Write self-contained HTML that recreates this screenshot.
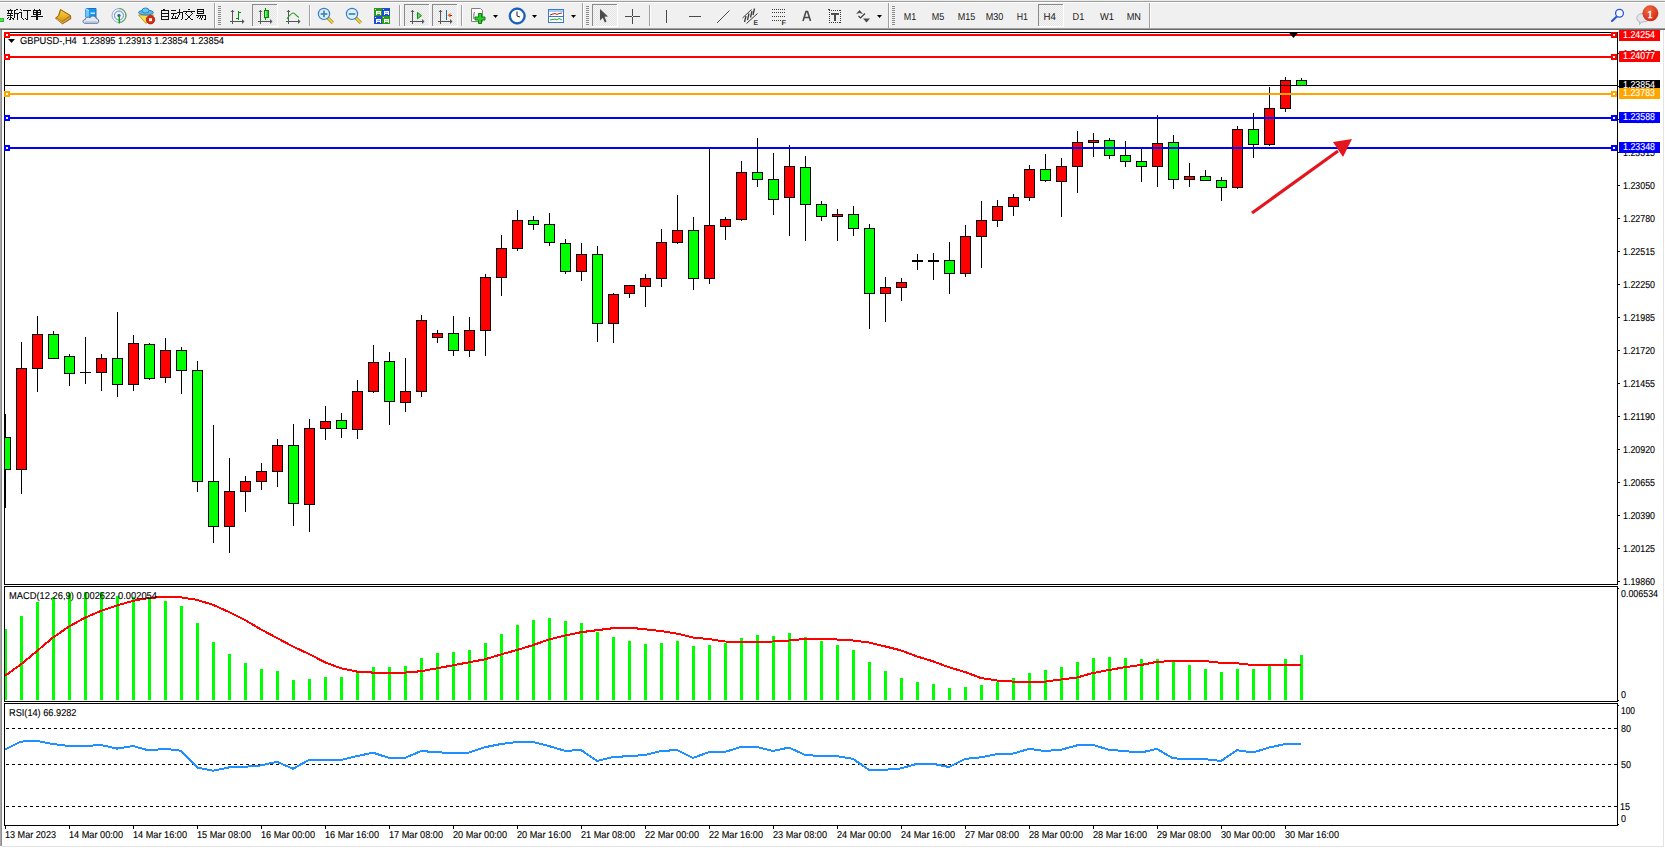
<!DOCTYPE html>
<html><head><meta charset="utf-8"><title>MT4</title>
<style>
html,body{margin:0;padding:0;background:#fff;width:1665px;height:848px;overflow:hidden}
body{position:relative;font-family:"Liberation Sans", sans-serif}
</style></head><body>
<svg width="1665" height="848" viewBox="0 0 1665 848" shape-rendering="crispEdges" style="position:absolute;left:0;top:0">
<g font-family='"Liberation Sans", sans-serif'>
<rect x="0" y="0" width="1665" height="848" fill="#ffffff"/>
<rect x="0" y="0" width="1665" height="28" fill="#f0f0f0"/>
<rect x="0" y="1" width="1665" height="1" fill="#a0a0a0"/>
<rect x="0" y="0" width="1665" height="1" fill="#e8e8e8"/>
<rect x="0" y="2" width="1665" height="1" fill="#ffffff"/>
<rect x="0" y="28" width="1665" height="1" fill="#a0a0a0"/>
<rect x="0" y="29" width="1665" height="1" fill="#6a6a6a"/>
<rect x="0" y="30" width="1" height="816" fill="#a8a8a8"/>
<rect x="1" y="30" width="1" height="816" fill="#8a8a8a"/>
<rect x="1663" y="30" width="1" height="817" fill="#e3e3e3"/>
<rect x="2" y="846" width="1662" height="1" fill="#e3e3e3"/>
<rect x="4" y="32" width="1614" height="1" fill="#000"/>
<rect x="4" y="584" width="1614" height="1" fill="#000"/>
<rect x="4" y="32" width="1" height="553" fill="#000"/>
<rect x="1617" y="32" width="1" height="553" fill="#000"/>
<rect x="4" y="586" width="1614" height="1" fill="#000"/>
<rect x="4" y="701" width="1614" height="1" fill="#000"/>
<rect x="4" y="586" width="1" height="116" fill="#000"/>
<rect x="1617" y="586" width="1" height="116" fill="#000"/>
<rect x="4" y="703" width="1614" height="1" fill="#000"/>
<rect x="4" y="825" width="1614" height="1" fill="#000"/>
<rect x="4" y="703" width="1" height="123" fill="#000"/>
<rect x="1617" y="703" width="1" height="123" fill="#000"/>
<defs><clipPath id="mc"><rect x="5" y="33" width="1612" height="551"/></clipPath><clipPath id="m2"><rect x="5" y="587" width="1612" height="114"/></clipPath><clipPath id="m3"><rect x="5" y="704" width="1612" height="121"/></clipPath></defs>
<rect x="1618" y="581" width="2" height="1" fill="#000"/>
<text x="1623" y="585" font-size="10" fill="#000" textLength="32" lengthAdjust="spacingAndGlyphs" stroke="#000" stroke-width="0.12" text-rendering="geometricPrecision">1.19860</text>
<rect x="1618" y="548" width="2" height="1" fill="#000"/>
<text x="1623" y="552" font-size="10" fill="#000" textLength="32" lengthAdjust="spacingAndGlyphs" stroke="#000" stroke-width="0.12" text-rendering="geometricPrecision">1.20125</text>
<rect x="1618" y="515" width="2" height="1" fill="#000"/>
<text x="1623" y="519" font-size="10" fill="#000" textLength="32" lengthAdjust="spacingAndGlyphs" stroke="#000" stroke-width="0.12" text-rendering="geometricPrecision">1.20390</text>
<rect x="1618" y="482" width="2" height="1" fill="#000"/>
<text x="1623" y="486" font-size="10" fill="#000" textLength="32" lengthAdjust="spacingAndGlyphs" stroke="#000" stroke-width="0.12" text-rendering="geometricPrecision">1.20655</text>
<rect x="1618" y="449" width="2" height="1" fill="#000"/>
<text x="1623" y="453" font-size="10" fill="#000" textLength="32" lengthAdjust="spacingAndGlyphs" stroke="#000" stroke-width="0.12" text-rendering="geometricPrecision">1.20920</text>
<rect x="1618" y="416" width="2" height="1" fill="#000"/>
<text x="1623" y="420" font-size="10" fill="#000" textLength="32" lengthAdjust="spacingAndGlyphs" stroke="#000" stroke-width="0.12" text-rendering="geometricPrecision">1.21190</text>
<rect x="1618" y="383" width="2" height="1" fill="#000"/>
<text x="1623" y="387" font-size="10" fill="#000" textLength="32" lengthAdjust="spacingAndGlyphs" stroke="#000" stroke-width="0.12" text-rendering="geometricPrecision">1.21455</text>
<rect x="1618" y="350" width="2" height="1" fill="#000"/>
<text x="1623" y="354" font-size="10" fill="#000" textLength="32" lengthAdjust="spacingAndGlyphs" stroke="#000" stroke-width="0.12" text-rendering="geometricPrecision">1.21720</text>
<rect x="1618" y="317" width="2" height="1" fill="#000"/>
<text x="1623" y="321" font-size="10" fill="#000" textLength="32" lengthAdjust="spacingAndGlyphs" stroke="#000" stroke-width="0.12" text-rendering="geometricPrecision">1.21985</text>
<rect x="1618" y="284" width="2" height="1" fill="#000"/>
<text x="1623" y="288" font-size="10" fill="#000" textLength="32" lengthAdjust="spacingAndGlyphs" stroke="#000" stroke-width="0.12" text-rendering="geometricPrecision">1.22250</text>
<rect x="1618" y="251" width="2" height="1" fill="#000"/>
<text x="1623" y="255" font-size="10" fill="#000" textLength="32" lengthAdjust="spacingAndGlyphs" stroke="#000" stroke-width="0.12" text-rendering="geometricPrecision">1.22515</text>
<rect x="1618" y="218" width="2" height="1" fill="#000"/>
<text x="1623" y="222" font-size="10" fill="#000" textLength="32" lengthAdjust="spacingAndGlyphs" stroke="#000" stroke-width="0.12" text-rendering="geometricPrecision">1.22780</text>
<rect x="1618" y="185" width="2" height="1" fill="#000"/>
<text x="1623" y="189" font-size="10" fill="#000" textLength="32" lengthAdjust="spacingAndGlyphs" stroke="#000" stroke-width="0.12" text-rendering="geometricPrecision">1.23050</text>
<rect x="1618" y="152" width="2" height="1" fill="#000"/>
<text x="1623" y="156" font-size="10" fill="#000" textLength="32" lengthAdjust="spacingAndGlyphs" stroke="#000" stroke-width="0.12" text-rendering="geometricPrecision">1.23315</text>
<rect x="1618" y="119" width="2" height="1" fill="#000"/>
<text x="1623" y="123" font-size="10" fill="#000" textLength="32" lengthAdjust="spacingAndGlyphs" stroke="#000" stroke-width="0.12" text-rendering="geometricPrecision">1.23580</text>
<rect x="1618" y="86" width="2" height="1" fill="#000"/>
<text x="1623" y="90" font-size="10" fill="#000" textLength="32" lengthAdjust="spacingAndGlyphs" stroke="#000" stroke-width="0.12" text-rendering="geometricPrecision">1.23845</text>
<rect x="1618" y="53" width="2" height="1" fill="#000"/>
<text x="1623" y="57" font-size="10" fill="#000" textLength="32" lengthAdjust="spacingAndGlyphs" stroke="#000" stroke-width="0.12" text-rendering="geometricPrecision">1.24118</text>
<g clip-path="url(#mc)">
<rect x="5" y="414" width="1" height="94" fill="#000"/>
<rect x="0" y="437" width="11" height="33" fill="#000"/>
<rect x="1" y="438" width="9" height="31" fill="#00ff00"/>
<rect x="21" y="342" width="1" height="152" fill="#000"/>
<rect x="16" y="368" width="11" height="102" fill="#000"/>
<rect x="17" y="369" width="9" height="100" fill="#ff0000"/>
<rect x="37" y="316" width="1" height="76" fill="#000"/>
<rect x="32" y="334" width="11" height="35" fill="#000"/>
<rect x="33" y="335" width="9" height="33" fill="#ff0000"/>
<rect x="53" y="331" width="1" height="28" fill="#000"/>
<rect x="48" y="334" width="11" height="25" fill="#000"/>
<rect x="49" y="335" width="9" height="23" fill="#00ff00"/>
<rect x="69" y="354" width="1" height="32" fill="#000"/>
<rect x="64" y="356" width="11" height="18" fill="#000"/>
<rect x="65" y="357" width="9" height="16" fill="#00ff00"/>
<rect x="85" y="337" width="1" height="47" fill="#000"/>
<rect x="80" y="372" width="11" height="1" fill="#000"/>
<rect x="101" y="354" width="1" height="37" fill="#000"/>
<rect x="96" y="358" width="11" height="15" fill="#000"/>
<rect x="97" y="359" width="9" height="13" fill="#ff0000"/>
<rect x="117" y="312" width="1" height="85" fill="#000"/>
<rect x="112" y="358" width="11" height="27" fill="#000"/>
<rect x="113" y="359" width="9" height="25" fill="#00ff00"/>
<rect x="133" y="335" width="1" height="56" fill="#000"/>
<rect x="128" y="343" width="11" height="42" fill="#000"/>
<rect x="129" y="344" width="9" height="40" fill="#ff0000"/>
<rect x="149" y="343" width="1" height="37" fill="#000"/>
<rect x="144" y="344" width="11" height="35" fill="#000"/>
<rect x="145" y="345" width="9" height="33" fill="#00ff00"/>
<rect x="165" y="338" width="1" height="45" fill="#000"/>
<rect x="160" y="350" width="11" height="28" fill="#000"/>
<rect x="161" y="351" width="9" height="26" fill="#ff0000"/>
<rect x="181" y="347" width="1" height="47" fill="#000"/>
<rect x="176" y="350" width="11" height="21" fill="#000"/>
<rect x="177" y="351" width="9" height="19" fill="#00ff00"/>
<rect x="197" y="361" width="1" height="131" fill="#000"/>
<rect x="192" y="370" width="11" height="112" fill="#000"/>
<rect x="193" y="371" width="9" height="110" fill="#00ff00"/>
<rect x="213" y="425" width="1" height="118" fill="#000"/>
<rect x="208" y="481" width="11" height="46" fill="#000"/>
<rect x="209" y="482" width="9" height="44" fill="#00ff00"/>
<rect x="229" y="458" width="1" height="95" fill="#000"/>
<rect x="224" y="491" width="11" height="36" fill="#000"/>
<rect x="225" y="492" width="9" height="34" fill="#ff0000"/>
<rect x="245" y="476" width="1" height="36" fill="#000"/>
<rect x="240" y="481" width="11" height="11" fill="#000"/>
<rect x="241" y="482" width="9" height="9" fill="#ff0000"/>
<rect x="261" y="463" width="1" height="27" fill="#000"/>
<rect x="256" y="471" width="11" height="11" fill="#000"/>
<rect x="257" y="472" width="9" height="9" fill="#ff0000"/>
<rect x="277" y="439" width="1" height="48" fill="#000"/>
<rect x="272" y="445" width="11" height="27" fill="#000"/>
<rect x="273" y="446" width="9" height="25" fill="#ff0000"/>
<rect x="293" y="424" width="1" height="102" fill="#000"/>
<rect x="288" y="445" width="11" height="59" fill="#000"/>
<rect x="289" y="446" width="9" height="57" fill="#00ff00"/>
<rect x="309" y="419" width="1" height="113" fill="#000"/>
<rect x="304" y="428" width="11" height="77" fill="#000"/>
<rect x="305" y="429" width="9" height="75" fill="#ff0000"/>
<rect x="325" y="406" width="1" height="34" fill="#000"/>
<rect x="320" y="421" width="11" height="8" fill="#000"/>
<rect x="321" y="422" width="9" height="6" fill="#ff0000"/>
<rect x="341" y="413" width="1" height="25" fill="#000"/>
<rect x="336" y="420" width="11" height="9" fill="#000"/>
<rect x="337" y="421" width="9" height="7" fill="#00ff00"/>
<rect x="357" y="380" width="1" height="59" fill="#000"/>
<rect x="352" y="391" width="11" height="39" fill="#000"/>
<rect x="353" y="392" width="9" height="37" fill="#ff0000"/>
<rect x="373" y="345" width="1" height="48" fill="#000"/>
<rect x="368" y="362" width="11" height="30" fill="#000"/>
<rect x="369" y="363" width="9" height="28" fill="#ff0000"/>
<rect x="389" y="352" width="1" height="73" fill="#000"/>
<rect x="384" y="361" width="11" height="41" fill="#000"/>
<rect x="385" y="362" width="9" height="39" fill="#00ff00"/>
<rect x="405" y="358" width="1" height="54" fill="#000"/>
<rect x="400" y="391" width="11" height="12" fill="#000"/>
<rect x="401" y="392" width="9" height="10" fill="#ff0000"/>
<rect x="421" y="315" width="1" height="82" fill="#000"/>
<rect x="416" y="320" width="11" height="72" fill="#000"/>
<rect x="417" y="321" width="9" height="70" fill="#ff0000"/>
<rect x="437" y="330" width="1" height="13" fill="#000"/>
<rect x="432" y="333" width="11" height="5" fill="#000"/>
<rect x="433" y="334" width="9" height="3" fill="#ff0000"/>
<rect x="453" y="316" width="1" height="40" fill="#000"/>
<rect x="448" y="333" width="11" height="18" fill="#000"/>
<rect x="449" y="334" width="9" height="16" fill="#00ff00"/>
<rect x="469" y="317" width="1" height="40" fill="#000"/>
<rect x="464" y="330" width="11" height="21" fill="#000"/>
<rect x="465" y="331" width="9" height="19" fill="#ff0000"/>
<rect x="485" y="274" width="1" height="82" fill="#000"/>
<rect x="480" y="277" width="11" height="54" fill="#000"/>
<rect x="481" y="278" width="9" height="52" fill="#ff0000"/>
<rect x="501" y="235" width="1" height="61" fill="#000"/>
<rect x="496" y="248" width="11" height="30" fill="#000"/>
<rect x="497" y="249" width="9" height="28" fill="#ff0000"/>
<rect x="517" y="210" width="1" height="41" fill="#000"/>
<rect x="512" y="220" width="11" height="29" fill="#000"/>
<rect x="513" y="221" width="9" height="27" fill="#ff0000"/>
<rect x="533" y="216" width="1" height="14" fill="#000"/>
<rect x="528" y="220" width="11" height="5" fill="#000"/>
<rect x="529" y="221" width="9" height="3" fill="#00ff00"/>
<rect x="549" y="213" width="1" height="33" fill="#000"/>
<rect x="544" y="224" width="11" height="19" fill="#000"/>
<rect x="545" y="225" width="9" height="17" fill="#00ff00"/>
<rect x="565" y="239" width="1" height="35" fill="#000"/>
<rect x="560" y="243" width="11" height="29" fill="#000"/>
<rect x="561" y="244" width="9" height="27" fill="#00ff00"/>
<rect x="581" y="243" width="1" height="38" fill="#000"/>
<rect x="576" y="254" width="11" height="18" fill="#000"/>
<rect x="577" y="255" width="9" height="16" fill="#ff0000"/>
<rect x="597" y="246" width="1" height="96" fill="#000"/>
<rect x="592" y="254" width="11" height="70" fill="#000"/>
<rect x="593" y="255" width="9" height="68" fill="#00ff00"/>
<rect x="613" y="293" width="1" height="50" fill="#000"/>
<rect x="608" y="294" width="11" height="30" fill="#000"/>
<rect x="609" y="295" width="9" height="28" fill="#ff0000"/>
<rect x="629" y="285" width="1" height="13" fill="#000"/>
<rect x="624" y="285" width="11" height="9" fill="#000"/>
<rect x="625" y="286" width="9" height="7" fill="#ff0000"/>
<rect x="645" y="274" width="1" height="33" fill="#000"/>
<rect x="640" y="278" width="11" height="9" fill="#000"/>
<rect x="641" y="279" width="9" height="7" fill="#ff0000"/>
<rect x="661" y="229" width="1" height="58" fill="#000"/>
<rect x="656" y="242" width="11" height="37" fill="#000"/>
<rect x="657" y="243" width="9" height="35" fill="#ff0000"/>
<rect x="677" y="195" width="1" height="49" fill="#000"/>
<rect x="672" y="230" width="11" height="13" fill="#000"/>
<rect x="673" y="231" width="9" height="11" fill="#ff0000"/>
<rect x="693" y="217" width="1" height="73" fill="#000"/>
<rect x="688" y="230" width="11" height="49" fill="#000"/>
<rect x="689" y="231" width="9" height="47" fill="#00ff00"/>
<rect x="709" y="148" width="1" height="136" fill="#000"/>
<rect x="704" y="225" width="11" height="54" fill="#000"/>
<rect x="705" y="226" width="9" height="52" fill="#ff0000"/>
<rect x="725" y="217" width="1" height="23" fill="#000"/>
<rect x="720" y="219" width="11" height="8" fill="#000"/>
<rect x="721" y="220" width="9" height="6" fill="#ff0000"/>
<rect x="741" y="161" width="1" height="60" fill="#000"/>
<rect x="736" y="172" width="11" height="48" fill="#000"/>
<rect x="737" y="173" width="9" height="46" fill="#ff0000"/>
<rect x="757" y="138" width="1" height="49" fill="#000"/>
<rect x="752" y="172" width="11" height="8" fill="#000"/>
<rect x="753" y="173" width="9" height="6" fill="#00ff00"/>
<rect x="773" y="153" width="1" height="62" fill="#000"/>
<rect x="768" y="179" width="11" height="21" fill="#000"/>
<rect x="769" y="180" width="9" height="19" fill="#00ff00"/>
<rect x="789" y="145" width="1" height="91" fill="#000"/>
<rect x="784" y="166" width="11" height="32" fill="#000"/>
<rect x="785" y="167" width="9" height="30" fill="#ff0000"/>
<rect x="805" y="156" width="1" height="85" fill="#000"/>
<rect x="800" y="167" width="11" height="38" fill="#000"/>
<rect x="801" y="168" width="9" height="36" fill="#00ff00"/>
<rect x="821" y="201" width="1" height="20" fill="#000"/>
<rect x="816" y="204" width="11" height="13" fill="#000"/>
<rect x="817" y="205" width="9" height="11" fill="#00ff00"/>
<rect x="837" y="209" width="1" height="32" fill="#000"/>
<rect x="832" y="214" width="11" height="3" fill="#000"/>
<rect x="833" y="215" width="9" height="1" fill="#ff0000"/>
<rect x="853" y="206" width="1" height="30" fill="#000"/>
<rect x="848" y="214" width="11" height="15" fill="#000"/>
<rect x="849" y="215" width="9" height="13" fill="#00ff00"/>
<rect x="869" y="224" width="1" height="105" fill="#000"/>
<rect x="864" y="228" width="11" height="66" fill="#000"/>
<rect x="865" y="229" width="9" height="64" fill="#00ff00"/>
<rect x="885" y="277" width="1" height="45" fill="#000"/>
<rect x="880" y="287" width="11" height="7" fill="#000"/>
<rect x="881" y="288" width="9" height="5" fill="#ff0000"/>
<rect x="901" y="278" width="1" height="23" fill="#000"/>
<rect x="896" y="282" width="11" height="6" fill="#000"/>
<rect x="897" y="283" width="9" height="4" fill="#ff0000"/>
<rect x="917" y="254" width="1" height="16" fill="#000"/>
<rect x="912" y="260" width="11" height="2" fill="#000"/>
<rect x="933" y="253" width="1" height="27" fill="#000"/>
<rect x="928" y="260" width="11" height="2" fill="#000"/>
<rect x="949" y="242" width="1" height="52" fill="#000"/>
<rect x="944" y="260" width="11" height="14" fill="#000"/>
<rect x="945" y="261" width="9" height="12" fill="#00ff00"/>
<rect x="965" y="225" width="1" height="52" fill="#000"/>
<rect x="960" y="236" width="11" height="38" fill="#000"/>
<rect x="961" y="237" width="9" height="36" fill="#ff0000"/>
<rect x="981" y="201" width="1" height="67" fill="#000"/>
<rect x="976" y="220" width="11" height="17" fill="#000"/>
<rect x="977" y="221" width="9" height="15" fill="#ff0000"/>
<rect x="997" y="200" width="1" height="27" fill="#000"/>
<rect x="992" y="206" width="11" height="15" fill="#000"/>
<rect x="993" y="207" width="9" height="13" fill="#ff0000"/>
<rect x="1013" y="194" width="1" height="22" fill="#000"/>
<rect x="1008" y="197" width="11" height="10" fill="#000"/>
<rect x="1009" y="198" width="9" height="8" fill="#ff0000"/>
<rect x="1029" y="165" width="1" height="36" fill="#000"/>
<rect x="1024" y="169" width="11" height="29" fill="#000"/>
<rect x="1025" y="170" width="9" height="27" fill="#ff0000"/>
<rect x="1045" y="154" width="1" height="28" fill="#000"/>
<rect x="1040" y="169" width="11" height="12" fill="#000"/>
<rect x="1041" y="170" width="9" height="10" fill="#00ff00"/>
<rect x="1061" y="158" width="1" height="59" fill="#000"/>
<rect x="1056" y="166" width="11" height="16" fill="#000"/>
<rect x="1057" y="167" width="9" height="14" fill="#ff0000"/>
<rect x="1077" y="131" width="1" height="62" fill="#000"/>
<rect x="1072" y="142" width="11" height="25" fill="#000"/>
<rect x="1073" y="143" width="9" height="23" fill="#ff0000"/>
<rect x="1093" y="133" width="1" height="24" fill="#000"/>
<rect x="1088" y="140" width="11" height="3" fill="#000"/>
<rect x="1089" y="141" width="9" height="1" fill="#ff0000"/>
<rect x="1109" y="138" width="1" height="21" fill="#000"/>
<rect x="1104" y="140" width="11" height="16" fill="#000"/>
<rect x="1105" y="141" width="9" height="14" fill="#00ff00"/>
<rect x="1125" y="141" width="1" height="26" fill="#000"/>
<rect x="1120" y="155" width="11" height="7" fill="#000"/>
<rect x="1121" y="156" width="9" height="5" fill="#00ff00"/>
<rect x="1141" y="149" width="1" height="33" fill="#000"/>
<rect x="1136" y="161" width="11" height="6" fill="#000"/>
<rect x="1137" y="162" width="9" height="4" fill="#00ff00"/>
<rect x="1157" y="115" width="1" height="72" fill="#000"/>
<rect x="1152" y="143" width="11" height="24" fill="#000"/>
<rect x="1153" y="144" width="9" height="22" fill="#ff0000"/>
<rect x="1173" y="135" width="1" height="54" fill="#000"/>
<rect x="1168" y="142" width="11" height="38" fill="#000"/>
<rect x="1169" y="143" width="9" height="36" fill="#00ff00"/>
<rect x="1189" y="163" width="1" height="24" fill="#000"/>
<rect x="1184" y="176" width="11" height="4" fill="#000"/>
<rect x="1185" y="177" width="9" height="2" fill="#ff0000"/>
<rect x="1205" y="170" width="1" height="11" fill="#000"/>
<rect x="1200" y="176" width="11" height="5" fill="#000"/>
<rect x="1201" y="177" width="9" height="3" fill="#00ff00"/>
<rect x="1221" y="177" width="1" height="24" fill="#000"/>
<rect x="1216" y="180" width="11" height="8" fill="#000"/>
<rect x="1217" y="181" width="9" height="6" fill="#00ff00"/>
<rect x="1237" y="126" width="1" height="63" fill="#000"/>
<rect x="1232" y="129" width="11" height="59" fill="#000"/>
<rect x="1233" y="130" width="9" height="57" fill="#ff0000"/>
<rect x="1253" y="113" width="1" height="45" fill="#000"/>
<rect x="1248" y="129" width="11" height="16" fill="#000"/>
<rect x="1249" y="130" width="9" height="14" fill="#00ff00"/>
<rect x="1269" y="87" width="1" height="59" fill="#000"/>
<rect x="1264" y="108" width="11" height="37" fill="#000"/>
<rect x="1265" y="109" width="9" height="35" fill="#ff0000"/>
<rect x="1285" y="77" width="1" height="35" fill="#000"/>
<rect x="1280" y="80" width="11" height="29" fill="#000"/>
<rect x="1281" y="81" width="9" height="27" fill="#ff0000"/>
<rect x="1301" y="78" width="1" height="8" fill="#000"/>
<rect x="1296" y="80" width="11" height="6" fill="#000"/>
<rect x="1297" y="81" width="9" height="4" fill="#00ff00"/>
</g>
<rect x="5" y="34" width="1612" height="2" fill="#ff0000"/>
<rect x="4" y="32" width="6" height="6" fill="#ff0000"/>
<rect x="6" y="34" width="2" height="2" fill="#fff"/>
<rect x="1611" y="32" width="6" height="6" fill="#ff0000"/>
<rect x="1613" y="34" width="2" height="2" fill="#fff"/>
<rect x="5" y="56" width="1612" height="2" fill="#ff0000"/>
<rect x="4" y="54" width="6" height="6" fill="#ff0000"/>
<rect x="6" y="56" width="2" height="2" fill="#fff"/>
<rect x="1611" y="54" width="6" height="6" fill="#ff0000"/>
<rect x="1613" y="56" width="2" height="2" fill="#fff"/>
<rect x="5" y="85" width="1612" height="1" fill="#000"/>
<rect x="5" y="93" width="1612" height="2" fill="#ffa500"/>
<rect x="4" y="91" width="6" height="6" fill="#ffa500"/>
<rect x="6" y="93" width="2" height="2" fill="#fff"/>
<rect x="1611" y="91" width="6" height="6" fill="#ffa500"/>
<rect x="1613" y="93" width="2" height="2" fill="#fff"/>
<rect x="5" y="117" width="1612" height="2" fill="#0000ff"/>
<rect x="4" y="115" width="6" height="6" fill="#0000ff"/>
<rect x="6" y="117" width="2" height="2" fill="#fff"/>
<rect x="1611" y="115" width="6" height="6" fill="#0000ff"/>
<rect x="1613" y="117" width="2" height="2" fill="#fff"/>
<rect x="5" y="147" width="1612" height="2" fill="#0000ff"/>
<rect x="4" y="145" width="6" height="6" fill="#0000ff"/>
<rect x="6" y="147" width="2" height="2" fill="#fff"/>
<rect x="1611" y="145" width="6" height="6" fill="#0000ff"/>
<rect x="1613" y="147" width="2" height="2" fill="#fff"/>
<polygon points="1288.5,32 1298.5,32 1293.5,38" fill="#000" shape-rendering="geometricPrecision"/>
<rect x="1619" y="30" width="41" height="11" fill="#ff0000"/>
<text x="1623" y="38" font-size="10" fill="#fff" textLength="32" lengthAdjust="spacingAndGlyphs" stroke="#fff" stroke-width="0.12" text-rendering="geometricPrecision">1.24254</text>
<rect x="1619" y="51" width="41" height="11" fill="#ff0000"/>
<text x="1623" y="59" font-size="10" fill="#fff" textLength="32" lengthAdjust="spacingAndGlyphs" stroke="#fff" stroke-width="0.12" text-rendering="geometricPrecision">1.24077</text>
<rect x="1619" y="80" width="41" height="11" fill="#000000"/>
<text x="1623" y="88" font-size="10" fill="#fff" textLength="32" lengthAdjust="spacingAndGlyphs" stroke="#fff" stroke-width="0.12" text-rendering="geometricPrecision">1.23854</text>
<rect x="1619" y="88" width="41" height="11" fill="#ffa500"/>
<text x="1623" y="96" font-size="10" fill="#fff" textLength="32" lengthAdjust="spacingAndGlyphs" stroke="#fff" stroke-width="0.12" text-rendering="geometricPrecision">1.23783</text>
<rect x="1619" y="112" width="41" height="11" fill="#0000ff"/>
<text x="1623" y="120" font-size="10" fill="#fff" textLength="32" lengthAdjust="spacingAndGlyphs" stroke="#fff" stroke-width="0.12" text-rendering="geometricPrecision">1.23588</text>
<rect x="1619" y="142" width="41" height="11" fill="#0000ff"/>
<text x="1623" y="150" font-size="10" fill="#fff" textLength="32" lengthAdjust="spacingAndGlyphs" stroke="#fff" stroke-width="0.12" text-rendering="geometricPrecision">1.23348</text>
<polygon points="8,39 15,39 11.5,43" fill="#000" shape-rendering="geometricPrecision"/>
<text x="20" y="44" font-size="10" fill="#000" textLength="204" lengthAdjust="spacingAndGlyphs" stroke="#000" stroke-width="0.12" text-rendering="geometricPrecision">GBPUSD-,H4&#160;&#160;1.23895 1.23913 1.23854 1.23854</text>
<g shape-rendering="geometricPrecision">
<line x1="1252" y1="213" x2="1338" y2="151" stroke="#e3161d" stroke-width="3.1"/>
<polygon points="1352,139 1333,142 1343,157" fill="#e3161d"/>
</g>
<g clip-path="url(#m2)">
<rect x="4" y="629" width="3" height="71" fill="#00ff00"/>
<rect x="20" y="616" width="3" height="84" fill="#00ff00"/>
<rect x="36" y="602" width="3" height="98" fill="#00ff00"/>
<rect x="52" y="597" width="3" height="103" fill="#00ff00"/>
<rect x="68" y="593" width="3" height="107" fill="#00ff00"/>
<rect x="84" y="592" width="3" height="108" fill="#00ff00"/>
<rect x="100" y="592" width="3" height="108" fill="#00ff00"/>
<rect x="116" y="596" width="3" height="104" fill="#00ff00"/>
<rect x="132" y="597" width="3" height="103" fill="#00ff00"/>
<rect x="148" y="598" width="3" height="102" fill="#00ff00"/>
<rect x="164" y="601" width="3" height="99" fill="#00ff00"/>
<rect x="180" y="606" width="3" height="94" fill="#00ff00"/>
<rect x="196" y="623" width="3" height="77" fill="#00ff00"/>
<rect x="212" y="642" width="3" height="58" fill="#00ff00"/>
<rect x="228" y="654" width="3" height="46" fill="#00ff00"/>
<rect x="244" y="663" width="3" height="37" fill="#00ff00"/>
<rect x="260" y="669" width="3" height="31" fill="#00ff00"/>
<rect x="276" y="671" width="3" height="29" fill="#00ff00"/>
<rect x="292" y="680" width="3" height="20" fill="#00ff00"/>
<rect x="308" y="679" width="3" height="21" fill="#00ff00"/>
<rect x="324" y="677" width="3" height="23" fill="#00ff00"/>
<rect x="340" y="677" width="3" height="23" fill="#00ff00"/>
<rect x="356" y="673" width="3" height="27" fill="#00ff00"/>
<rect x="372" y="667" width="3" height="33" fill="#00ff00"/>
<rect x="388" y="667" width="3" height="33" fill="#00ff00"/>
<rect x="404" y="666" width="3" height="34" fill="#00ff00"/>
<rect x="420" y="658" width="3" height="42" fill="#00ff00"/>
<rect x="436" y="653" width="3" height="47" fill="#00ff00"/>
<rect x="452" y="652" width="3" height="48" fill="#00ff00"/>
<rect x="468" y="650" width="3" height="50" fill="#00ff00"/>
<rect x="484" y="643" width="3" height="57" fill="#00ff00"/>
<rect x="500" y="634" width="3" height="66" fill="#00ff00"/>
<rect x="516" y="625" width="3" height="75" fill="#00ff00"/>
<rect x="532" y="620" width="3" height="80" fill="#00ff00"/>
<rect x="548" y="618" width="3" height="82" fill="#00ff00"/>
<rect x="564" y="621" width="3" height="79" fill="#00ff00"/>
<rect x="580" y="623" width="3" height="77" fill="#00ff00"/>
<rect x="596" y="632" width="3" height="68" fill="#00ff00"/>
<rect x="612" y="637" width="3" height="63" fill="#00ff00"/>
<rect x="628" y="641" width="3" height="59" fill="#00ff00"/>
<rect x="644" y="644" width="3" height="56" fill="#00ff00"/>
<rect x="660" y="643" width="3" height="57" fill="#00ff00"/>
<rect x="676" y="641" width="3" height="59" fill="#00ff00"/>
<rect x="692" y="646" width="3" height="54" fill="#00ff00"/>
<rect x="708" y="645" width="3" height="55" fill="#00ff00"/>
<rect x="724" y="643" width="3" height="57" fill="#00ff00"/>
<rect x="740" y="638" width="3" height="62" fill="#00ff00"/>
<rect x="756" y="635" width="3" height="65" fill="#00ff00"/>
<rect x="772" y="636" width="3" height="64" fill="#00ff00"/>
<rect x="788" y="633" width="3" height="67" fill="#00ff00"/>
<rect x="804" y="637" width="3" height="63" fill="#00ff00"/>
<rect x="820" y="641" width="3" height="59" fill="#00ff00"/>
<rect x="836" y="645" width="3" height="55" fill="#00ff00"/>
<rect x="852" y="650" width="3" height="50" fill="#00ff00"/>
<rect x="868" y="662" width="3" height="38" fill="#00ff00"/>
<rect x="884" y="671" width="3" height="29" fill="#00ff00"/>
<rect x="900" y="678" width="3" height="22" fill="#00ff00"/>
<rect x="916" y="682" width="3" height="18" fill="#00ff00"/>
<rect x="932" y="684" width="3" height="16" fill="#00ff00"/>
<rect x="948" y="688" width="3" height="12" fill="#00ff00"/>
<rect x="964" y="687" width="3" height="13" fill="#00ff00"/>
<rect x="980" y="685" width="3" height="15" fill="#00ff00"/>
<rect x="996" y="682" width="3" height="18" fill="#00ff00"/>
<rect x="1012" y="678" width="3" height="22" fill="#00ff00"/>
<rect x="1028" y="673" width="3" height="27" fill="#00ff00"/>
<rect x="1044" y="670" width="3" height="30" fill="#00ff00"/>
<rect x="1060" y="667" width="3" height="33" fill="#00ff00"/>
<rect x="1076" y="662" width="3" height="38" fill="#00ff00"/>
<rect x="1092" y="658" width="3" height="42" fill="#00ff00"/>
<rect x="1108" y="657" width="3" height="43" fill="#00ff00"/>
<rect x="1124" y="658" width="3" height="42" fill="#00ff00"/>
<rect x="1140" y="659" width="3" height="41" fill="#00ff00"/>
<rect x="1156" y="659" width="3" height="41" fill="#00ff00"/>
<rect x="1172" y="662" width="3" height="38" fill="#00ff00"/>
<rect x="1188" y="665" width="3" height="35" fill="#00ff00"/>
<rect x="1204" y="669" width="3" height="31" fill="#00ff00"/>
<rect x="1220" y="672" width="3" height="28" fill="#00ff00"/>
<rect x="1236" y="669" width="3" height="31" fill="#00ff00"/>
<rect x="1252" y="669" width="3" height="31" fill="#00ff00"/>
<rect x="1268" y="665" width="3" height="35" fill="#00ff00"/>
<rect x="1284" y="659" width="3" height="41" fill="#00ff00"/>
<rect x="1300" y="655" width="3" height="45" fill="#00ff00"/>
<polyline points="5,675.8 21,664.3 37,651 53,637.5 69,626.6 85,617.7 101,610.8 117,605.4 133,600.9 149,597.9 165,596.9 181,597.3 197,599.9 213,604.8 229,612 245,620 261,629.5 277,638 293,646.5 309,654 325,662.3 341,668.3 357,671.6 373,672.6 389,672.6 405,672.6 421,671.2 437,668.3 453,665.3 469,662.3 485,659.3 501,654.4 517,650 533,645.1 549,639.5 565,635.5 581,632.2 597,630.2 613,628.2 629,627.6 645,629.3 661,631 677,633.6 693,637.5 709,639.1 725,641.5 741,641.9 757,641.9 773,641.5 789,640.5 805,638.9 821,638.7 837,639.5 853,640.5 869,642.5 885,646.4 901,650.4 917,656.4 933,661.3 949,667.3 965,672 981,678 997,680.5 1013,681.6 1029,681.6 1045,681.6 1061,679.5 1077,677.5 1093,673 1109,670 1125,667.2 1141,665 1157,661.8 1173,661.1 1189,660.7 1205,661.1 1221,662.8 1237,663.3 1253,665 1269,665 1285,665 1301,665" fill="none" stroke="#ff0000" stroke-width="2" shape-rendering="crispEdges"/>
</g>
<text x="9" y="599" font-size="10" fill="#000" textLength="148" lengthAdjust="spacingAndGlyphs" stroke="#000" stroke-width="0.12" text-rendering="geometricPrecision">MACD(12,26,9) 0.002622 0.002054</text>
<rect x="1618" y="588" width="1" height="1" fill="#000"/>
<text x="1621" y="597" font-size="10" fill="#000" textLength="37" lengthAdjust="spacingAndGlyphs" stroke="#000" stroke-width="0.12" text-rendering="geometricPrecision">0.006534</text>
<rect x="1618" y="700" width="1" height="1" fill="#000"/>
<text x="1621" y="698" font-size="10" fill="#000" textLength="5" lengthAdjust="spacingAndGlyphs" stroke="#000" stroke-width="0.12" text-rendering="geometricPrecision">0</text>
<line x1="5" y1="728.5" x2="1617" y2="728.5" stroke="#000" stroke-width="1" stroke-dasharray="3,3" stroke-dashoffset="-1"/>
<line x1="5" y1="764.5" x2="1617" y2="764.5" stroke="#000" stroke-width="1" stroke-dasharray="3,3" stroke-dashoffset="-1"/>
<line x1="5" y1="806.5" x2="1617" y2="806.5" stroke="#000" stroke-width="1" stroke-dasharray="3,3" stroke-dashoffset="-1"/>
<g clip-path="url(#m3)">
<polyline points="5,749.6 21,741.6 37,741 53,744 69,746 85,746 101,745 117,748.6 133,746 149,750.5 165,748.8 181,750.7 197,767.4 213,770.8 229,767.4 245,766.8 261,765.4 277,761.8 293,768.8 309,759.9 325,759.9 341,759.9 357,756.1 373,752.7 389,757.9 405,757.9 421,751.1 437,752.1 453,753.5 469,752.5 485,747.2 501,744 517,742 533,742 549,746 565,750.9 581,750 597,760.9 613,757.1 629,756.1 645,755 661,751.1 677,750 693,757.9 709,752.1 725,751.9 741,747 757,747 773,750.9 789,747.6 805,754.9 821,756.1 837,756.1 853,758.9 869,769.8 885,769.8 901,768.4 917,763.8 933,763.8 949,767 965,758.9 981,757.3 997,754.1 1013,753.6 1029,748.9 1045,751 1061,749.7 1077,745.4 1093,745 1109,749.7 1125,751.2 1141,752.5 1157,748.9 1173,758.4 1189,758.8 1205,759.2 1221,761 1237,750.2 1253,752.5 1269,747.6 1285,744.1 1301,744.1" fill="none" stroke="#1e90ff" stroke-width="2" shape-rendering="crispEdges"/>
</g>
<text x="9" y="716" font-size="10" fill="#000" textLength="67.5" lengthAdjust="spacingAndGlyphs" stroke="#000" stroke-width="0.12" text-rendering="geometricPrecision">RSI(14) 66.9282</text>
<text x="1621" y="714" font-size="10" fill="#000" textLength="14" lengthAdjust="spacingAndGlyphs" stroke="#000" stroke-width="0.12" text-rendering="geometricPrecision">100</text>
<text x="1621" y="732" font-size="10" fill="#000" textLength="10" lengthAdjust="spacingAndGlyphs" stroke="#000" stroke-width="0.12" text-rendering="geometricPrecision">80</text>
<text x="1621" y="768" font-size="10" fill="#000" textLength="10" lengthAdjust="spacingAndGlyphs" stroke="#000" stroke-width="0.12" text-rendering="geometricPrecision">50</text>
<text x="1620" y="810" font-size="10" fill="#000" textLength="10" lengthAdjust="spacingAndGlyphs" stroke="#000" stroke-width="0.12" text-rendering="geometricPrecision">15</text>
<text x="1621" y="822" font-size="10" fill="#000" textLength="5" lengthAdjust="spacingAndGlyphs" stroke="#000" stroke-width="0.12" text-rendering="geometricPrecision">0</text>
<rect x="1618" y="705" width="1" height="1" fill="#000"/>
<rect x="1618" y="824" width="1" height="1" fill="#000"/>
<rect x="5" y="826" width="1" height="3" fill="#000"/>
<text x="5" y="838" font-size="10" fill="#000" textLength="51" lengthAdjust="spacingAndGlyphs" stroke="#000" stroke-width="0.12" text-rendering="geometricPrecision">13 Mar 2023</text>
<rect x="69" y="826" width="1" height="3" fill="#000"/>
<text x="69" y="838" font-size="10" fill="#000" textLength="54" lengthAdjust="spacingAndGlyphs" stroke="#000" stroke-width="0.12" text-rendering="geometricPrecision">14 Mar 00:00</text>
<rect x="133" y="826" width="1" height="3" fill="#000"/>
<text x="133" y="838" font-size="10" fill="#000" textLength="54" lengthAdjust="spacingAndGlyphs" stroke="#000" stroke-width="0.12" text-rendering="geometricPrecision">14 Mar 16:00</text>
<rect x="197" y="826" width="1" height="3" fill="#000"/>
<text x="197" y="838" font-size="10" fill="#000" textLength="54" lengthAdjust="spacingAndGlyphs" stroke="#000" stroke-width="0.12" text-rendering="geometricPrecision">15 Mar 08:00</text>
<rect x="261" y="826" width="1" height="3" fill="#000"/>
<text x="261" y="838" font-size="10" fill="#000" textLength="54" lengthAdjust="spacingAndGlyphs" stroke="#000" stroke-width="0.12" text-rendering="geometricPrecision">16 Mar 00:00</text>
<rect x="325" y="826" width="1" height="3" fill="#000"/>
<text x="325" y="838" font-size="10" fill="#000" textLength="54" lengthAdjust="spacingAndGlyphs" stroke="#000" stroke-width="0.12" text-rendering="geometricPrecision">16 Mar 16:00</text>
<rect x="389" y="826" width="1" height="3" fill="#000"/>
<text x="389" y="838" font-size="10" fill="#000" textLength="54" lengthAdjust="spacingAndGlyphs" stroke="#000" stroke-width="0.12" text-rendering="geometricPrecision">17 Mar 08:00</text>
<rect x="453" y="826" width="1" height="3" fill="#000"/>
<text x="453" y="838" font-size="10" fill="#000" textLength="54" lengthAdjust="spacingAndGlyphs" stroke="#000" stroke-width="0.12" text-rendering="geometricPrecision">20 Mar 00:00</text>
<rect x="517" y="826" width="1" height="3" fill="#000"/>
<text x="517" y="838" font-size="10" fill="#000" textLength="54" lengthAdjust="spacingAndGlyphs" stroke="#000" stroke-width="0.12" text-rendering="geometricPrecision">20 Mar 16:00</text>
<rect x="581" y="826" width="1" height="3" fill="#000"/>
<text x="581" y="838" font-size="10" fill="#000" textLength="54" lengthAdjust="spacingAndGlyphs" stroke="#000" stroke-width="0.12" text-rendering="geometricPrecision">21 Mar 08:00</text>
<rect x="645" y="826" width="1" height="3" fill="#000"/>
<text x="645" y="838" font-size="10" fill="#000" textLength="54" lengthAdjust="spacingAndGlyphs" stroke="#000" stroke-width="0.12" text-rendering="geometricPrecision">22 Mar 00:00</text>
<rect x="709" y="826" width="1" height="3" fill="#000"/>
<text x="709" y="838" font-size="10" fill="#000" textLength="54" lengthAdjust="spacingAndGlyphs" stroke="#000" stroke-width="0.12" text-rendering="geometricPrecision">22 Mar 16:00</text>
<rect x="773" y="826" width="1" height="3" fill="#000"/>
<text x="773" y="838" font-size="10" fill="#000" textLength="54" lengthAdjust="spacingAndGlyphs" stroke="#000" stroke-width="0.12" text-rendering="geometricPrecision">23 Mar 08:00</text>
<rect x="837" y="826" width="1" height="3" fill="#000"/>
<text x="837" y="838" font-size="10" fill="#000" textLength="54" lengthAdjust="spacingAndGlyphs" stroke="#000" stroke-width="0.12" text-rendering="geometricPrecision">24 Mar 00:00</text>
<rect x="901" y="826" width="1" height="3" fill="#000"/>
<text x="901" y="838" font-size="10" fill="#000" textLength="54" lengthAdjust="spacingAndGlyphs" stroke="#000" stroke-width="0.12" text-rendering="geometricPrecision">24 Mar 16:00</text>
<rect x="965" y="826" width="1" height="3" fill="#000"/>
<text x="965" y="838" font-size="10" fill="#000" textLength="54" lengthAdjust="spacingAndGlyphs" stroke="#000" stroke-width="0.12" text-rendering="geometricPrecision">27 Mar 08:00</text>
<rect x="1029" y="826" width="1" height="3" fill="#000"/>
<text x="1029" y="838" font-size="10" fill="#000" textLength="54" lengthAdjust="spacingAndGlyphs" stroke="#000" stroke-width="0.12" text-rendering="geometricPrecision">28 Mar 00:00</text>
<rect x="1093" y="826" width="1" height="3" fill="#000"/>
<text x="1093" y="838" font-size="10" fill="#000" textLength="54" lengthAdjust="spacingAndGlyphs" stroke="#000" stroke-width="0.12" text-rendering="geometricPrecision">28 Mar 16:00</text>
<rect x="1157" y="826" width="1" height="3" fill="#000"/>
<text x="1157" y="838" font-size="10" fill="#000" textLength="54" lengthAdjust="spacingAndGlyphs" stroke="#000" stroke-width="0.12" text-rendering="geometricPrecision">29 Mar 08:00</text>
<rect x="1221" y="826" width="1" height="3" fill="#000"/>
<text x="1221" y="838" font-size="10" fill="#000" textLength="54" lengthAdjust="spacingAndGlyphs" stroke="#000" stroke-width="0.12" text-rendering="geometricPrecision">30 Mar 00:00</text>
<rect x="1285" y="826" width="1" height="3" fill="#000"/>
<text x="1285" y="838" font-size="10" fill="#000" textLength="54" lengthAdjust="spacingAndGlyphs" stroke="#000" stroke-width="0.12" text-rendering="geometricPrecision">30 Mar 16:00</text>
</g></svg>
<svg width="1665" height="30" viewBox="0 0 1665 30" style="position:absolute;left:0;top:0" shape-rendering="crispEdges">
<g font-family='"Liberation Sans", sans-serif'>
<defs><pattern id="chk" width="2" height="2" patternUnits="userSpaceOnUse"><rect width="2" height="2" fill="#f6f6f6"/><rect width="1" height="1" fill="#e4e4e4"/><rect x="1" y="1" width="1" height="1" fill="#e4e4e4"/></pattern><linearGradient id="gold" x1="0" y1="0" x2="0" y2="1"><stop offset="0" stop-color="#f6d23a"/><stop offset="1" stop-color="#d89a18"/></linearGradient><radialGradient id="badge" cx="0.4" cy="0.3" r="0.8"><stop offset="0" stop-color="#f06a40"/><stop offset="1" stop-color="#cc2010"/></radialGradient><linearGradient id="gcan" x1="0" y1="0" x2="1" y2="0"><stop offset="0" stop-color="#9af59a"/><stop offset="1" stop-color="#10c010"/></linearGradient></defs>
<rect x="0" y="18" width="4" height="4" fill="#28b828"/>
<rect x="0" y="19" width="3" height="2" fill="#50e050"/>
<rect x="10" y="9" width="1" height="1" fill="#111"/>
<rect x="7" y="10" width="6" height="1" fill="#111"/>
<rect x="8" y="11" width="1" height="2" fill="#111"/>
<rect x="11" y="11" width="1" height="2" fill="#111"/>
<rect x="7" y="13" width="6" height="1" fill="#111"/>
<rect x="7" y="15" width="6" height="1" fill="#111"/>
<rect x="10" y="14" width="1" height="6" fill="#111"/>
<rect x="8" y="17" width="1" height="1" fill="#111"/>
<rect x="7" y="18" width="1" height="1" fill="#111"/>
<rect x="11" y="17" width="1" height="1" fill="#111"/>
<rect x="12" y="18" width="1" height="1" fill="#111"/>
<rect x="9" y="19" width="1" height="1" fill="#111"/>
<rect x="16" y="9" width="2" height="1" fill="#111"/>
<rect x="14" y="10" width="2" height="1" fill="#111"/>
<rect x="14" y="11" width="1" height="7" fill="#111"/>
<rect x="13" y="18" width="1" height="2" fill="#111"/>
<rect x="14" y="13" width="5" height="1" fill="#111"/>
<rect x="17" y="14" width="1" height="6" fill="#111"/>
<rect x="20" y="9" width="1" height="1" fill="#111"/>
<rect x="21" y="10" width="1" height="1" fill="#111"/>
<rect x="19" y="12" width="3" height="1" fill="#111"/>
<rect x="21" y="13" width="1" height="5" fill="#111"/>
<rect x="22" y="18" width="1" height="1" fill="#111"/>
<rect x="23" y="19" width="1" height="1" fill="#111"/>
<rect x="23" y="10" width="8" height="1" fill="#111"/>
<rect x="27" y="11" width="1" height="8" fill="#111"/>
<rect x="26" y="19" width="2" height="1" fill="#111"/>
<rect x="25" y="18" width="1" height="1" fill="#111"/>
<rect x="34" y="9" width="1" height="1" fill="#111"/>
<rect x="39" y="9" width="1" height="1" fill="#111"/>
<rect x="33" y="10" width="8" height="1" fill="#111"/>
<rect x="33" y="12" width="8" height="1" fill="#111"/>
<rect x="33" y="14" width="8" height="1" fill="#111"/>
<rect x="33" y="10" width="1" height="5" fill="#111"/>
<rect x="40" y="10" width="1" height="5" fill="#111"/>
<rect x="36" y="10" width="2" height="10" fill="#111"/>
<rect x="31" y="16" width="12" height="1" fill="#111"/>
<rect x="163" y="9" width="2" height="1" fill="#111"/>
<rect x="161" y="10" width="1" height="10" fill="#111"/>
<rect x="168" y="10" width="1" height="10" fill="#111"/>
<rect x="161" y="10" width="8" height="1" fill="#111"/>
<rect x="161" y="13" width="8" height="1" fill="#111"/>
<rect x="161" y="16" width="8" height="1" fill="#111"/>
<rect x="161" y="19" width="8" height="1" fill="#111"/>
<rect x="171" y="10" width="5" height="1" fill="#111"/>
<rect x="171" y="13" width="6" height="1" fill="#111"/>
<rect x="173" y="14" width="1" height="2" fill="#111"/>
<rect x="172" y="16" width="1" height="2" fill="#111"/>
<rect x="171" y="18" width="1" height="1" fill="#111"/>
<rect x="172" y="18" width="5" height="1" fill="#111"/>
<rect x="175" y="16" width="1" height="2" fill="#111"/>
<rect x="177" y="12" width="6" height="1" fill="#111"/>
<rect x="182" y="12" width="1" height="7" fill="#111"/>
<rect x="181" y="19" width="1" height="1" fill="#111"/>
<rect x="179" y="9" width="1" height="6" fill="#111"/>
<rect x="178" y="15" width="1" height="2" fill="#111"/>
<rect x="177" y="17" width="1" height="2" fill="#111"/>
<rect x="188" y="9" width="2" height="1" fill="#111"/>
<rect x="183" y="11" width="12" height="1" fill="#111"/>
<rect x="186" y="12" width="1" height="1" fill="#111"/>
<rect x="185" y="13" width="1" height="1" fill="#111"/>
<rect x="191" y="12" width="1" height="1" fill="#111"/>
<rect x="192" y="13" width="1" height="1" fill="#111"/>
<rect x="186" y="14" width="1" height="1" fill="#111"/>
<rect x="191" y="14" width="1" height="1" fill="#111"/>
<rect x="187" y="15" width="1" height="1" fill="#111"/>
<rect x="190" y="15" width="1" height="1" fill="#111"/>
<rect x="188" y="16" width="2" height="2" fill="#111"/>
<rect x="187" y="18" width="1" height="1" fill="#111"/>
<rect x="190" y="18" width="1" height="1" fill="#111"/>
<rect x="185" y="19" width="2" height="1" fill="#111"/>
<rect x="191" y="19" width="2" height="1" fill="#111"/>
<rect x="197" y="9" width="1" height="5" fill="#111"/>
<rect x="203" y="9" width="1" height="5" fill="#111"/>
<rect x="197" y="9" width="7" height="1" fill="#111"/>
<rect x="197" y="11" width="7" height="1" fill="#111"/>
<rect x="197" y="13" width="7" height="1" fill="#111"/>
<rect x="196" y="15" width="10" height="1" fill="#111"/>
<rect x="205" y="15" width="1" height="5" fill="#111"/>
<rect x="204" y="19" width="1" height="1" fill="#111"/>
<rect x="198" y="16" width="1" height="1" fill="#111"/>
<rect x="197" y="17" width="1" height="1" fill="#111"/>
<rect x="200" y="16" width="1" height="2" fill="#111"/>
<rect x="199" y="18" width="1" height="1" fill="#111"/>
<rect x="202" y="16" width="1" height="2" fill="#111"/>
<rect x="201" y="18" width="1" height="2" fill="#111"/>
<g shape-rendering="geometricPrecision">
<polygon points="60.5,9.5 70.5,15.5 70.8,18.8 62.5,23.8 55.5,18.2 58.5,15.5" fill="#b87818" stroke="#a0600c" stroke-width="1"/>
<polygon points="61,10.5 69.5,15.8 62,21 57,17.8 59.5,15.2" fill="url(#gold)"/>
<polyline points="56.5,18.8 62.5,22.6 70.2,17.6" fill="none" stroke="#e8c870" stroke-width="0.8"/>
<polygon points="85.5,9 89,8.5 96,8.5 96,18 89,18 85.5,17" fill="#1a96ee" stroke="#1a70c8" stroke-width="1"/>
<polygon points="85.5,9 89,10.5 89,18 85.5,17" fill="#6cc8ff"/>
<line x1="85.5" y1="9" x2="89" y2="10.5" stroke="#e8f6ff" stroke-width="0.8"/>
<rect x="90.5" y="12.5" width="4.5" height="1.4" fill="#d8f0ff"/>
<path d="M84.5,23.2 C82.3,22.6 82.6,19.6 85.2,19.6 C85.5,17.2 88.3,16.4 90,17.8 C91.3,15.3 95.6,15.3 96.3,18.6 C99,18.6 99.6,22.8 97.2,23.2 Z" fill="#e2e8f2" stroke="#4a64a0" stroke-width="1"/>
<path d="M85,21.8 H96.8" stroke="#b8c4dc" stroke-width="1"/>
<circle cx="119" cy="15.5" r="7" fill="none" stroke="#7aa0d8" stroke-width="1" opacity="0.8"/>
<circle cx="119" cy="15.5" r="4.5" fill="none" stroke="#5a90d0" stroke-width="1"/>
<path d="M119,8.5 A7,7 0 0 1 126,15.5 A7,7 0 0 1 119,22.5" fill="none" stroke="#60a860" stroke-width="1.2"/>
<circle cx="119" cy="15.5" r="1.6" fill="#2050c0"/>
<rect x="118.6" y="15.5" width="1.4" height="8" fill="#18a018"/>
<polygon points="138.5,15 153.5,15 146,23.5" fill="#f4dc50" stroke="#c89a20" stroke-width="1"/>
<ellipse cx="146" cy="12.5" rx="7.5" ry="2.5" fill="#5ab4e8" stroke="#2a88c0" stroke-width="1"/>
<ellipse cx="145.5" cy="10.5" rx="3.5" ry="2.5" fill="#70c4f0" stroke="#2a88c0" stroke-width="1"/>
<circle cx="150.5" cy="19.7" r="4.2" fill="#e02a10" stroke="#a01808" stroke-width="0.8"/>
<rect x="149" y="18.2" width="3" height="3" fill="#ffffff"/>
</g>
<rect x="214" y="3" width="1" height="25" fill="#a0a0a0"/>
<rect x="215" y="3" width="1" height="25" fill="#ffffff"/>
<rect x="218" y="6" width="3" height="1" fill="#8c8c8c"/>
<rect x="218" y="8" width="3" height="1" fill="#8c8c8c"/>
<rect x="218" y="10" width="3" height="1" fill="#8c8c8c"/>
<rect x="218" y="12" width="3" height="1" fill="#8c8c8c"/>
<rect x="218" y="14" width="3" height="1" fill="#8c8c8c"/>
<rect x="218" y="16" width="3" height="1" fill="#8c8c8c"/>
<rect x="218" y="18" width="3" height="1" fill="#8c8c8c"/>
<rect x="218" y="20" width="3" height="1" fill="#8c8c8c"/>
<rect x="218" y="22" width="3" height="1" fill="#8c8c8c"/>
<rect x="218" y="24" width="3" height="1" fill="#8c8c8c"/>
<rect x="232" y="10" width="1" height="14" fill="#555555"/>
<rect x="230" y="21" width="14" height="1" fill="#555555"/>
<polygon points="230.5,12 232.5,10 234.5,12" fill="#555" shape-rendering="geometricPrecision"/>
<polygon points="242,19 244.5,21.5 242,24" fill="#555" shape-rendering="geometricPrecision"/>
<rect x="238" y="11" width="1" height="9" fill="#009000"/>
<rect x="239" y="12" width="2" height="1" fill="#009000"/>
<rect x="236" y="18" width="2" height="1" fill="#009000"/>
<rect x="252" y="4" width="26" height="23" fill="url(#chk)"/>
<rect x="252" y="4" width="26" height="1" fill="#8a8a8a"/>
<rect x="252" y="4" width="1" height="23" fill="#8a8a8a"/>
<rect x="252" y="26" width="26" height="1" fill="#ffffff"/>
<rect x="277" y="4" width="1" height="23" fill="#ffffff"/>
<rect x="260" y="10" width="1" height="14" fill="#555555"/>
<rect x="258" y="21" width="14" height="1" fill="#555555"/>
<polygon points="258.5,12 260.5,10 262.5,12" fill="#555" shape-rendering="geometricPrecision"/>
<polygon points="270,19 272.5,21.5 270,24" fill="#555" shape-rendering="geometricPrecision"/>
<rect x="265" y="8" width="1" height="12" fill="#008800"/>
<rect x="264" y="10" width="5" height="8" fill="#008800"/>
<rect x="265" y="11" width="3" height="6" fill="url(#gcan)"/>
<rect x="288" y="10" width="1" height="14" fill="#555555"/>
<rect x="286" y="21" width="14" height="1" fill="#555555"/>
<polygon points="286.5,12 288.5,10 290.5,12" fill="#555" shape-rendering="geometricPrecision"/>
<polygon points="298,19 300.5,21.5 298,24" fill="#555" shape-rendering="geometricPrecision"/>
<path d="M287,18.8 C289.5,15.5 292,12 294,13.2 C295.5,14 297,17 299,17.3" fill="none" stroke="#28a028" stroke-width="1.2" shape-rendering="geometricPrecision"/>
<rect x="309" y="5" width="1" height="21" fill="#a0a0a0"/>
<rect x="310" y="5" width="1" height="21" fill="#ffffff"/>
<g shape-rendering="geometricPrecision">
<line x1="327.8" y1="17.8" x2="332.8" y2="22.8" stroke="#b08010" stroke-width="3.2"/>
<line x1="327.8" y1="17.8" x2="332.8" y2="22.8" stroke="#f0d848" stroke-width="1.8"/>
<circle cx="324" cy="13.9" r="5.6" fill="#dcf0fc" stroke="#3a7cc8" stroke-width="1.2"/>
<rect x="320.7" y="13.1" width="6.6" height="1.8" fill="#4a88b0"/>
<rect x="323.1" y="10.6" width="1.8" height="6.6" fill="#4a88b0"/>
<line x1="355.8" y1="17.8" x2="360.8" y2="22.8" stroke="#b08010" stroke-width="3.2"/>
<line x1="355.8" y1="17.8" x2="360.8" y2="22.8" stroke="#f0d848" stroke-width="1.8"/>
<circle cx="352" cy="13.9" r="5.6" fill="#dcf0fc" stroke="#3a7cc8" stroke-width="1.2"/>
<rect x="348.7" y="13.1" width="6.6" height="1.8" fill="#4a88b0"/>
</g>
<rect x="374" y="8" width="8" height="8" fill="#2c9a20"/>
<rect x="376" y="11" width="5" height="3" fill="#ffffff"/>
<rect x="376" y="14" width="1" height="1" fill="#ffffff"/>
<rect x="380" y="14" width="1" height="1" fill="#ffffff"/>
<rect x="377" y="12" width="3" height="1" fill="#9ad890"/>
<rect x="375" y="9" width="1" height="1" fill="#d0f0d0"/>
<rect x="382" y="8" width="8" height="8" fill="#1e4ed0"/>
<rect x="384" y="11" width="5" height="3" fill="#ffffff"/>
<rect x="384" y="14" width="1" height="1" fill="#ffffff"/>
<rect x="388" y="14" width="1" height="1" fill="#ffffff"/>
<rect x="385" y="12" width="3" height="1" fill="#90a8e8"/>
<rect x="383" y="9" width="1" height="1" fill="#d0f0d0"/>
<rect x="374" y="16" width="8" height="8" fill="#1e4ed0"/>
<rect x="376" y="19" width="5" height="3" fill="#ffffff"/>
<rect x="376" y="22" width="1" height="1" fill="#ffffff"/>
<rect x="380" y="22" width="1" height="1" fill="#ffffff"/>
<rect x="377" y="20" width="3" height="1" fill="#90a8e8"/>
<rect x="375" y="17" width="1" height="1" fill="#d0f0d0"/>
<rect x="382" y="16" width="8" height="8" fill="#2c9a20"/>
<rect x="384" y="19" width="5" height="3" fill="#ffffff"/>
<rect x="384" y="22" width="1" height="1" fill="#ffffff"/>
<rect x="388" y="22" width="1" height="1" fill="#ffffff"/>
<rect x="385" y="20" width="3" height="1" fill="#9ad890"/>
<rect x="383" y="17" width="1" height="1" fill="#d0f0d0"/>
<rect x="399" y="5" width="1" height="21" fill="#a0a0a0"/>
<rect x="400" y="5" width="1" height="21" fill="#ffffff"/>
<rect x="404" y="4" width="26" height="23" fill="url(#chk)"/>
<rect x="404" y="4" width="26" height="1" fill="#8a8a8a"/>
<rect x="404" y="4" width="1" height="23" fill="#8a8a8a"/>
<rect x="404" y="26" width="26" height="1" fill="#ffffff"/>
<rect x="429" y="4" width="1" height="23" fill="#ffffff"/>
<rect x="412" y="10" width="1" height="14" fill="#555555"/>
<rect x="410" y="21" width="14" height="1" fill="#555555"/>
<polygon points="410.5,12 412.5,10 414.5,12" fill="#555" shape-rendering="geometricPrecision"/>
<polygon points="422,19 424.5,21.5 422,24" fill="#555" shape-rendering="geometricPrecision"/>
<polygon points="417.5,12.5 421.5,15.7 417.5,18.8" fill="#60e060" stroke="#109010" stroke-width="1" shape-rendering="geometricPrecision"/>
<rect x="432" y="4" width="26" height="23" fill="url(#chk)"/>
<rect x="432" y="4" width="26" height="1" fill="#8a8a8a"/>
<rect x="432" y="4" width="1" height="23" fill="#8a8a8a"/>
<rect x="432" y="26" width="26" height="1" fill="#ffffff"/>
<rect x="457" y="4" width="1" height="23" fill="#ffffff"/>
<rect x="440" y="10" width="1" height="14" fill="#555555"/>
<rect x="438" y="21" width="14" height="1" fill="#555555"/>
<polygon points="438.5,12 440.5,10 442.5,12" fill="#555" shape-rendering="geometricPrecision"/>
<polygon points="450,19 452.5,21.5 450,24" fill="#555" shape-rendering="geometricPrecision"/>
<rect x="446" y="10" width="1" height="10" fill="#1a6aa0"/>
<polygon points="447.5,15.3 450.5,13 450.5,17.6" fill="#f06010" shape-rendering="geometricPrecision"/>
<rect x="450" y="15" width="2" height="1" fill="#a02000"/>
<rect x="461" y="5" width="1" height="21" fill="#a0a0a0"/>
<rect x="462" y="5" width="1" height="21" fill="#ffffff"/>
<g shape-rendering="geometricPrecision">
<path d="M471.5,8.5 H480.5 L482.5,10.5 V21.5 H471.5 Z" fill="#ffffff" stroke="#808080" stroke-width="1"/>
<path d="M474.5,12 C473.5,13 474,17 473.8,19" fill="none" stroke="#404040" stroke-width="0.8"/>
<path d="M478.5,13.5 h3 v3.5 h3.5 v3 h-3.5 v3.5 h-3 v-3.5 h-3.5 v-3 h3.5 z" fill="#28d028" stroke="#108010" stroke-width="1"/>
</g>
<polygon points="493,15 498,15 495.5,18" fill="#000" shape-rendering="geometricPrecision"/>
<g shape-rendering="geometricPrecision">
<circle cx="517.2" cy="16" r="7.2" fill="#ffffff" stroke="#1464c0" stroke-width="2"/>
<circle cx="517.2" cy="16" r="8.2" fill="none" stroke="#0a4a9a" stroke-width="0.6"/>
<polyline points="517,11.5 517,16 520,17" fill="none" stroke="#222" stroke-width="1"/>
</g>
<polygon points="532,15 537,15 534.5,18" fill="#000" shape-rendering="geometricPrecision"/>
<rect x="548" y="9" width="16" height="14" fill="#3a78c8"/>
<rect x="549" y="10" width="14" height="2" fill="#a8d0f8"/>
<rect x="549" y="12" width="14" height="10" fill="#ffffff"/>
<rect x="549" y="16" width="14" height="1" fill="#3a78c8"/>
<polyline points="550,15 553,14 555,13.5 557,14.5 559,13.5 562,13" fill="none" stroke="#b02020" stroke-width="1" shape-rendering="geometricPrecision"/>
<polyline points="550,20 553,19.5 555,19 557,20 559,18.5 562,20" fill="none" stroke="#20a020" stroke-width="1" shape-rendering="geometricPrecision"/>
<polygon points="571,15 576,15 573.5,18" fill="#000" shape-rendering="geometricPrecision"/>
<rect x="582" y="3" width="1" height="25" fill="#a0a0a0"/>
<rect x="583" y="3" width="1" height="25" fill="#ffffff"/>
<rect x="586" y="6" width="3" height="1" fill="#8c8c8c"/>
<rect x="586" y="8" width="3" height="1" fill="#8c8c8c"/>
<rect x="586" y="10" width="3" height="1" fill="#8c8c8c"/>
<rect x="586" y="12" width="3" height="1" fill="#8c8c8c"/>
<rect x="586" y="14" width="3" height="1" fill="#8c8c8c"/>
<rect x="586" y="16" width="3" height="1" fill="#8c8c8c"/>
<rect x="586" y="18" width="3" height="1" fill="#8c8c8c"/>
<rect x="586" y="20" width="3" height="1" fill="#8c8c8c"/>
<rect x="586" y="22" width="3" height="1" fill="#8c8c8c"/>
<rect x="586" y="24" width="3" height="1" fill="#8c8c8c"/>
<rect x="592" y="4" width="26" height="23" fill="url(#chk)"/>
<rect x="592" y="4" width="26" height="1" fill="#8a8a8a"/>
<rect x="592" y="4" width="1" height="23" fill="#8a8a8a"/>
<rect x="592" y="26" width="26" height="1" fill="#ffffff"/>
<rect x="617" y="4" width="1" height="23" fill="#ffffff"/>
<polygon points="600,9 608,16.5 604.5,16.8 606.5,21.5 604.8,22.5 602.8,17.8 600,20.5" fill="#4a4a4a" shape-rendering="geometricPrecision"/>
<rect x="632" y="9" width="1" height="15" fill="#4a4a4a"/>
<rect x="625" y="16" width="15" height="1" fill="#4a4a4a"/>
<rect x="632" y="16" width="1" height="1" fill="#f0f0f0"/>
<rect x="649" y="5" width="1" height="21" fill="#a0a0a0"/>
<rect x="650" y="5" width="1" height="21" fill="#ffffff"/>
<rect x="666" y="10" width="1" height="13" fill="#4a4a4a"/>
<rect x="689" y="16" width="12" height="1" fill="#4a4a4a"/>
<line x1="717" y1="23" x2="729.5" y2="10.5" stroke="#4a4a4a" stroke-width="1" shape-rendering="geometricPrecision"/>
<g shape-rendering="geometricPrecision" stroke="#3a3a3a" fill="none">
<line x1="742.5" y1="18" x2="751.5" y2="9.5" stroke-width="1"/>
<line x1="746.5" y1="23.5" x2="757.5" y2="13.5" stroke-width="1"/>
<path d="M744.5,22 L746,16 M747.5,20 L749,13.5 M750.5,17.5 L752,11 M753,15 L754.5,8.5" stroke-width="1.3"/>
</g>
<text x="753.6" y="25" font-size="7" font-weight="bold" fill="#3a3a3a" textLength="4.5" lengthAdjust="spacingAndGlyphs" text-rendering="geometricPrecision">E</text>
<rect x="772" y="9" width="1" height="1" fill="#3a3a3a"/>
<rect x="774" y="9" width="1" height="1" fill="#3a3a3a"/>
<rect x="776" y="9" width="1" height="1" fill="#3a3a3a"/>
<rect x="778" y="9" width="1" height="1" fill="#3a3a3a"/>
<rect x="780" y="9" width="1" height="1" fill="#3a3a3a"/>
<rect x="782" y="9" width="1" height="1" fill="#3a3a3a"/>
<rect x="784" y="9" width="1" height="1" fill="#3a3a3a"/>
<rect x="772" y="12" width="1" height="1" fill="#3a3a3a"/>
<rect x="774" y="12" width="1" height="1" fill="#3a3a3a"/>
<rect x="776" y="12" width="1" height="1" fill="#3a3a3a"/>
<rect x="778" y="12" width="1" height="1" fill="#3a3a3a"/>
<rect x="780" y="12" width="1" height="1" fill="#3a3a3a"/>
<rect x="782" y="12" width="1" height="1" fill="#3a3a3a"/>
<rect x="784" y="12" width="1" height="1" fill="#3a3a3a"/>
<rect x="772" y="16" width="1" height="1" fill="#3a3a3a"/>
<rect x="774" y="16" width="1" height="1" fill="#3a3a3a"/>
<rect x="776" y="16" width="1" height="1" fill="#3a3a3a"/>
<rect x="778" y="16" width="1" height="1" fill="#3a3a3a"/>
<rect x="780" y="16" width="1" height="1" fill="#3a3a3a"/>
<rect x="782" y="16" width="1" height="1" fill="#3a3a3a"/>
<rect x="784" y="16" width="1" height="1" fill="#3a3a3a"/>
<rect x="772" y="20" width="1" height="1" fill="#3a3a3a"/>
<rect x="774" y="20" width="1" height="1" fill="#3a3a3a"/>
<rect x="776" y="20" width="1" height="1" fill="#3a3a3a"/>
<rect x="778" y="20" width="1" height="1" fill="#3a3a3a"/>
<rect x="780" y="20" width="1" height="1" fill="#3a3a3a"/>
<text x="781.6" y="25" font-size="7" font-weight="bold" fill="#3a3a3a" textLength="4.5" lengthAdjust="spacingAndGlyphs" text-rendering="geometricPrecision">F</text>
<path d="M803,21 L806,11.5 L807.5,11.5 L810.5,21 M804.3,17.5 H809.2" fill="none" stroke="#4a4a4a" stroke-width="1.6" shape-rendering="geometricPrecision"/>
<rect x="829" y="10" width="1" height="1" fill="#3a3a3a"/>
<rect x="829" y="22" width="1" height="1" fill="#3a3a3a"/>
<rect x="831" y="10" width="1" height="1" fill="#3a3a3a"/>
<rect x="831" y="22" width="1" height="1" fill="#3a3a3a"/>
<rect x="833" y="10" width="1" height="1" fill="#3a3a3a"/>
<rect x="833" y="22" width="1" height="1" fill="#3a3a3a"/>
<rect x="835" y="10" width="1" height="1" fill="#3a3a3a"/>
<rect x="835" y="22" width="1" height="1" fill="#3a3a3a"/>
<rect x="837" y="10" width="1" height="1" fill="#3a3a3a"/>
<rect x="837" y="22" width="1" height="1" fill="#3a3a3a"/>
<rect x="839" y="10" width="1" height="1" fill="#3a3a3a"/>
<rect x="839" y="22" width="1" height="1" fill="#3a3a3a"/>
<rect x="829" y="10" width="1" height="1" fill="#3a3a3a"/>
<rect x="840" y="10" width="1" height="1" fill="#3a3a3a"/>
<rect x="829" y="12" width="1" height="1" fill="#3a3a3a"/>
<rect x="840" y="12" width="1" height="1" fill="#3a3a3a"/>
<rect x="829" y="14" width="1" height="1" fill="#3a3a3a"/>
<rect x="840" y="14" width="1" height="1" fill="#3a3a3a"/>
<rect x="829" y="16" width="1" height="1" fill="#3a3a3a"/>
<rect x="840" y="16" width="1" height="1" fill="#3a3a3a"/>
<rect x="829" y="18" width="1" height="1" fill="#3a3a3a"/>
<rect x="840" y="18" width="1" height="1" fill="#3a3a3a"/>
<rect x="829" y="20" width="1" height="1" fill="#3a3a3a"/>
<rect x="840" y="20" width="1" height="1" fill="#3a3a3a"/>
<rect x="829" y="22" width="1" height="1" fill="#3a3a3a"/>
<rect x="840" y="22" width="1" height="1" fill="#3a3a3a"/>
<rect x="828" y="9" width="2" height="1" fill="#3a3a3a"/>
<rect x="831" y="13" width="8" height="1" fill="#4a4a4a"/>
<rect x="831" y="14" width="8" height="1" fill="#5a5a5a"/>
<rect x="834" y="13" width="2" height="8" fill="#4a4a4a"/>
<g shape-rendering="geometricPrecision" fill="#4a4a4a">
<polygon points="856,14 859.5,10 863,14 859.5,13"/>
<polygon points="863,18.5 870,18.5 866.5,22.5"/>
<polyline points="858.5,16 860.5,18 865,13.5" fill="none" stroke="#3a3a3a" stroke-width="1.2"/>
</g>
<polygon points="877,15 882,15 879.5,18" fill="#000" shape-rendering="geometricPrecision"/>
<rect x="888" y="3" width="1" height="25" fill="#a0a0a0"/>
<rect x="889" y="3" width="1" height="25" fill="#ffffff"/>
<rect x="892" y="6" width="3" height="1" fill="#8c8c8c"/>
<rect x="892" y="8" width="3" height="1" fill="#8c8c8c"/>
<rect x="892" y="10" width="3" height="1" fill="#8c8c8c"/>
<rect x="892" y="12" width="3" height="1" fill="#8c8c8c"/>
<rect x="892" y="14" width="3" height="1" fill="#8c8c8c"/>
<rect x="892" y="16" width="3" height="1" fill="#8c8c8c"/>
<rect x="892" y="18" width="3" height="1" fill="#8c8c8c"/>
<rect x="892" y="20" width="3" height="1" fill="#8c8c8c"/>
<rect x="892" y="22" width="3" height="1" fill="#8c8c8c"/>
<rect x="892" y="24" width="3" height="1" fill="#8c8c8c"/>
<text x="903.8" y="20" font-size="10" fill="#202020" textLength="12.5" lengthAdjust="spacingAndGlyphs" stroke="#202020" stroke-width="0.02" text-rendering="geometricPrecision">M1</text>
<text x="931.7" y="20" font-size="10" fill="#202020" textLength="12.5" lengthAdjust="spacingAndGlyphs" stroke="#202020" stroke-width="0.02" text-rendering="geometricPrecision">M5</text>
<text x="957.7" y="20" font-size="10" fill="#202020" textLength="17.5" lengthAdjust="spacingAndGlyphs" stroke="#202020" stroke-width="0.02" text-rendering="geometricPrecision">M15</text>
<text x="985.8" y="20" font-size="10" fill="#202020" textLength="17.6" lengthAdjust="spacingAndGlyphs" stroke="#202020" stroke-width="0.02" text-rendering="geometricPrecision">M30</text>
<text x="1016.8" y="20" font-size="10" fill="#202020" textLength="11.2" lengthAdjust="spacingAndGlyphs" stroke="#202020" stroke-width="0.02" text-rendering="geometricPrecision">H1</text>
<rect x="1038" y="4" width="26" height="23" fill="url(#chk)"/>
<rect x="1038" y="4" width="26" height="1" fill="#8a8a8a"/>
<rect x="1038" y="4" width="1" height="23" fill="#8a8a8a"/>
<rect x="1038" y="26" width="26" height="1" fill="#ffffff"/>
<rect x="1063" y="4" width="1" height="23" fill="#ffffff"/>
<text x="1043.6" y="20" font-size="10" fill="#202020" textLength="12.4" lengthAdjust="spacingAndGlyphs" stroke="#202020" stroke-width="0.02" text-rendering="geometricPrecision">H4</text>
<text x="1072.6" y="20" font-size="10" fill="#202020" textLength="11.7" lengthAdjust="spacingAndGlyphs" stroke="#202020" stroke-width="0.02" text-rendering="geometricPrecision">D1</text>
<text x="1100" y="20" font-size="10" fill="#202020" textLength="14" lengthAdjust="spacingAndGlyphs" stroke="#202020" stroke-width="0.02" text-rendering="geometricPrecision">W1</text>
<text x="1126.7" y="20" font-size="10" fill="#202020" textLength="14.3" lengthAdjust="spacingAndGlyphs" stroke="#202020" stroke-width="0.02" text-rendering="geometricPrecision">MN</text>
<rect x="1149" y="3" width="1" height="25" fill="#a0a0a0"/>
<rect x="1150" y="3" width="1" height="25" fill="#ffffff"/>
<g shape-rendering="geometricPrecision">
<line x1="1612" y1="21" x2="1616.8" y2="16.5" stroke="#2a5cd0" stroke-width="2.2" stroke-linecap="round"/>
<circle cx="1619.5" cy="13.3" r="3.9" fill="#f8f8ff" stroke="#2458d8" stroke-width="1.3"/>
<path d="M1637,19 C1636,15 1640,13.5 1643,13.5 C1647,13.5 1649,16 1648.5,19 C1648,21.5 1645,22 1641.5,22 L1639.5,24.5 L1639.8,21.8 C1638,21.3 1637.2,20.5 1637,19 Z" fill="#e4e6ee" stroke="#a8a8a8" stroke-width="0.8"/>
<circle cx="1650.4" cy="13.3" r="8" fill="url(#badge)"/>
</g>
<text x="1647.2" y="18" font-size="11" font-family="Liberation Serif, serif" fill="#ffffff" stroke="#ffffff" stroke-width="0.4" textLength="5.5" lengthAdjust="spacingAndGlyphs">1</text>
</g></svg>
</body></html>
